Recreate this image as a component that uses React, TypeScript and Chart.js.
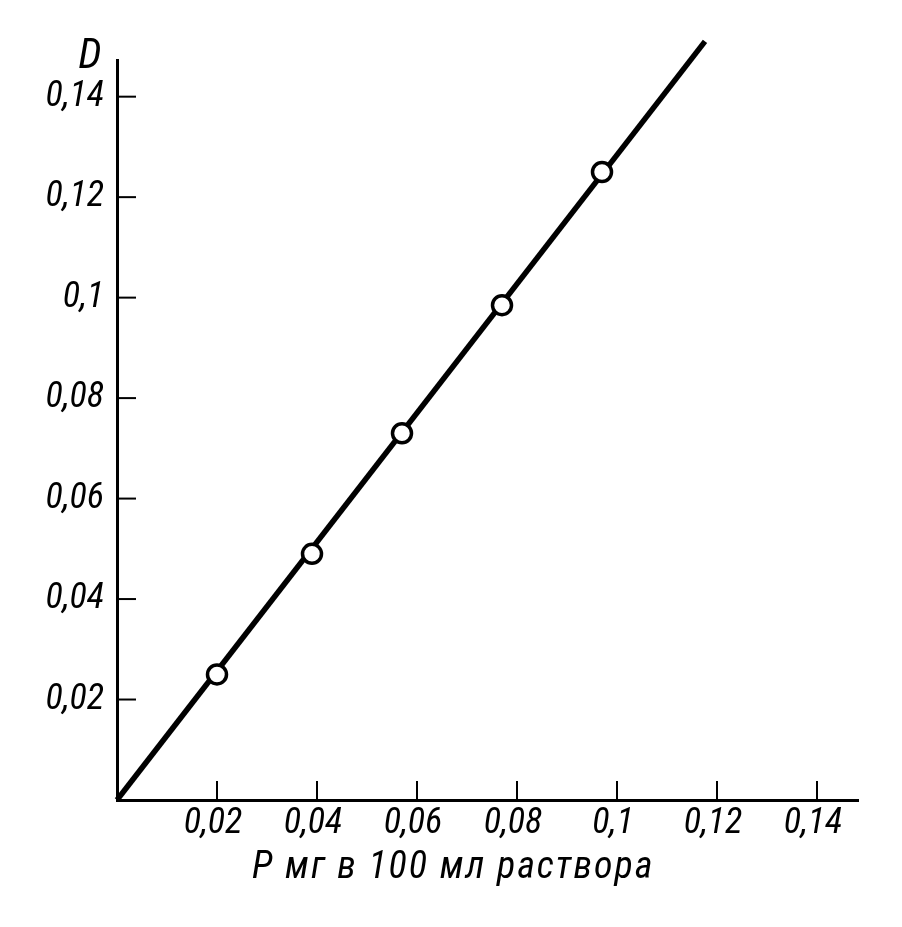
import React, { useEffect, useRef } from "react";
import { Chart, registerables } from "chart.js";

Chart.register(...registerables);

const X_TICKS = [0.02, 0.04, 0.06, 0.08, 0.1, 0.12, 0.14];
const Y_TICKS = [0.02, 0.04, 0.06, 0.08, 0.1, 0.12, 0.14];
const POINT_X = [0.02, 0.039, 0.057, 0.077, 0.097];
const POINT_Y = [0.025, 0.049, 0.073, 0.0985, 0.125];
const LINE_X = [0, 0.1176];
const LINE_Y = [0, 0.151];
const X_TITLE = "Р мг в 100 мл раствора";
const Y_TITLE = "D";

const FONT = '"Roboto Condensed", "DejaVu Sans Condensed", Roboto, sans-serif';

const fmt = (v: number) => String(Math.round(v * 100) / 100).replace(".", ",");

const inwardTicks = {
  id: "inwardTicks",
  afterDraw(chart: any) {
    const { ctx, chartArea, scales } = chart;
    const xs = scales.x;
    const ys = scales.y;
    ctx.save();
    ctx.strokeStyle = "#000";
    ctx.lineWidth = 2;
    for (const t of X_TICKS) {
      const px = xs.getPixelForValue(t);
      ctx.beginPath();
      ctx.moveTo(px, chartArea.bottom);
      ctx.lineTo(px, chartArea.bottom - 19);
      ctx.stroke();
    }
    for (const t of Y_TICKS) {
      const py = ys.getPixelForValue(t);
      ctx.beginPath();
      ctx.moveTo(chartArea.left, py);
      ctx.lineTo(chartArea.left + 19, py);
      ctx.stroke();
    }
    ctx.fillStyle = "#000";
    ctx.font = `italic 42px ${FONT}`;
    ctx.textAlign = "center";
    ctx.textBaseline = "alphabetic";
    ctx.fillText(Y_TITLE, chartArea.left - 27, 68);
    ctx.font = `italic 38px ${FONT}`;
    (ctx as any).letterSpacing = "2px";
    ctx.textAlign = "left";
    ctx.fillText(X_TITLE, 252, 878);
    ctx.restore();
  },
};

export default function App() {
  const ref = useRef<HTMLCanvasElement>(null);
  useEffect(() => {
    if (!ref.current) return;
    const chart = new Chart(ref.current, {
      type: "scatter",
      data: {
        datasets: [
          {
            label: "points",
            data: POINT_X.map((x, i) => ({ x, y: POINT_Y[i] })),
            pointRadius: 9.5,
            pointBorderWidth: 3.5,
            pointBackgroundColor: "#fff",
            pointBorderColor: "#000",
            showLine: false,
            order: 0,
          },
          {
            label: "line",
            data: LINE_X.map((x, i) => ({ x, y: LINE_Y[i] })),
            showLine: true,
            borderColor: "#000",
            borderWidth: 5.5,
            pointRadius: 0,
            clip: false as any,
            order: 1,
          },
        ],
      },
      options: {
        animation: false,
        responsive: true,
        maintainAspectRatio: false,
        layout: { padding: { top: 60, right: 44, left: 0, bottom: 40 } },
        plugins: { legend: { display: false }, tooltip: { enabled: false } },
        scales: {
          x: {
            type: "linear",
            min: 0,
            max: 0.1482,
            afterBuildTicks: (s: any) => {
              s.ticks = X_TICKS.map((v) => ({ value: v }));
            },
            afterFit: (s: any) => {
              s.height = 87;
            },
            grid: { display: false, drawTicks: false },
            border: { display: true, color: "#000", width: 3 },
            ticks: {
              callback: (v: any) => fmt(Number(v)),
              color: "#000",
              padding: 2,
              labelOffset: -4,
              maxRotation: 0,
              autoSkip: false,
              font: { family: FONT, size: 36, style: "italic" },
            },
          },
          y: {
            type: "linear",
            min: 0,
            max: 0.1473,
            afterBuildTicks: (s: any) => {
              s.ticks = Y_TICKS.map((v) => ({ value: v }));
            },
            afterFit: (s: any) => {
              s.width = 117;
            },
            grid: { display: false, drawTicks: false },
            border: { display: true, color: "#000", width: 3 },
            ticks: {
              callback: (v: any) => fmt(Number(v)),
              color: "#000",
              padding: 13,
              autoSkip: false,
              font: { family: FONT, size: 36, style: "italic" },
            },
          },
        },
      },
      plugins: [inwardTicks],
    });
    return () => chart.destroy();
  }, []);
  return (
    <div style={{ position: "absolute", left: 0, top: 0, width: 902, height: 927, background: "#fff" }}>
      <canvas ref={ref} />
    </div>
  );
}
